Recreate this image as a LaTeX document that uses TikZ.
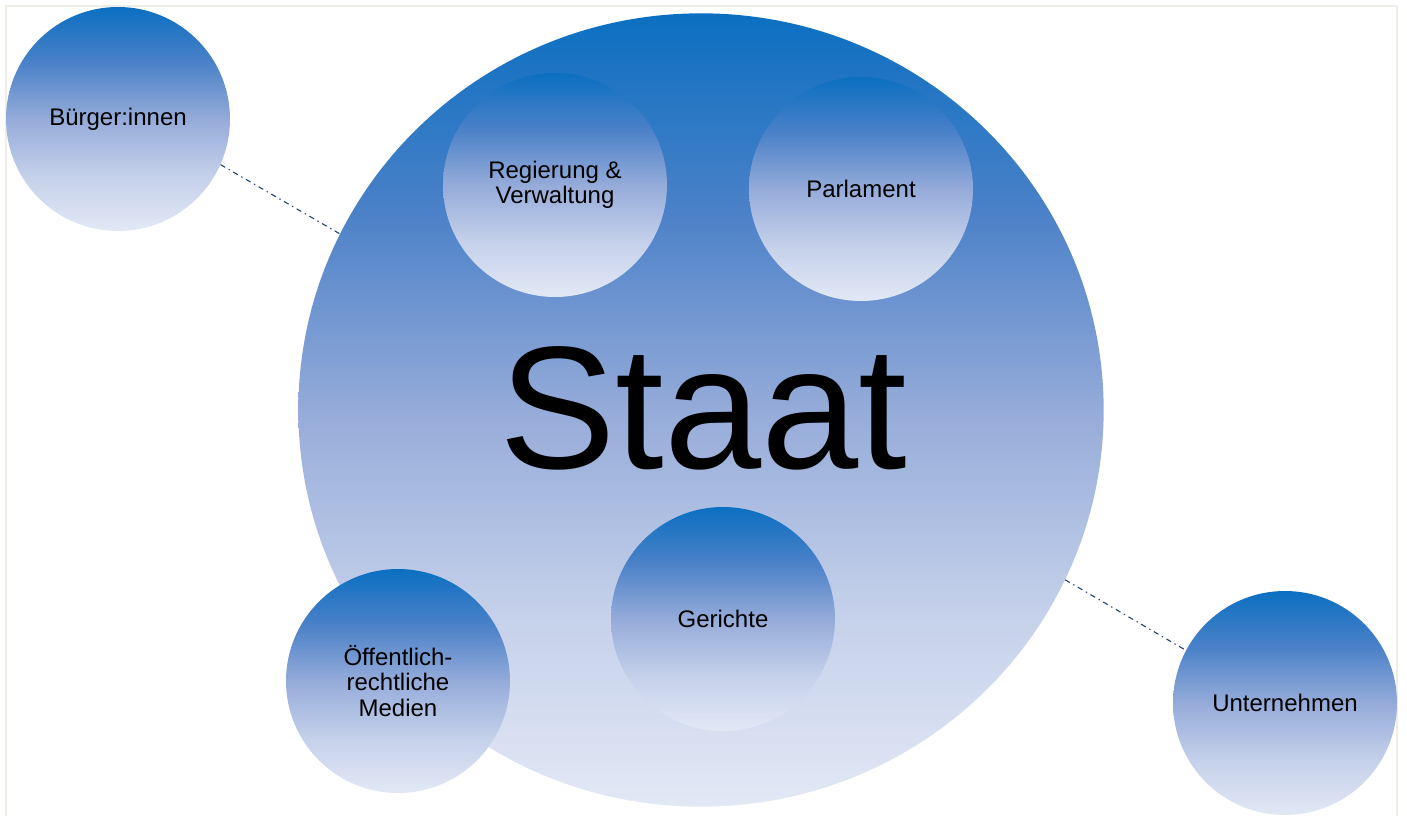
\documentclass[tikz,border=0pt]{standalone}
\usepackage{fontspec}
\setmainfont{Liberation Sans}
\usetikzlibrary{shapes.geometric}
\definecolor{cT}{HTML}{0B6FC1}
\definecolor{cC}{HTML}{4B81C8}
\definecolor{cM}{HTML}{95ABD9}
\definecolor{cD}{HTML}{C4D0EA}
\definecolor{cB}{HTML}{E2E8F5}
\definecolor{frameC}{HTML}{EEEEE6}
\definecolor{lineC}{HTML}{1F3F70}
\pgfdeclareverticalshading{bluegrad}{100bp}{color(0bp)=(cB); color(25bp)=(cB); color(37.5bp)=(cD); color(50bp)=(cM); color(62.5bp)=(cC); color(75bp)=(cT); color(100bp)=(cT)}
\tikzset{
  bubble/.style={circle, shading=bluegrad, minimum size=168pt, inner sep=0pt, align=center, font=\fontsize{18}{19}\selectfont, text=black},
  linkline/.style={draw=lineC, line width=0.8pt, dash pattern=on 4pt off 3pt on 1pt off 3pt}
}
\begin{document}
\begin{tikzpicture}[x=0.75pt, y=-0.75pt]
\useasboundingbox (0,0) rectangle (1407,816);
\fill[white] (0,0) rectangle (1407,816);
\draw[frameC, line width=1.2pt] (6,820) -- (6,6) -- (1397,6) -- (1397,820);
\node[ellipse, shading=bluegrad, minimum width=604pt, minimum height=595pt, inner sep=0pt] (staat) at (701,410) {};
\node[anchor=base, font=\fontsize{131}{131}\selectfont] (staattext) at (703,469) {Staat};
\node[bubble] (buerger) at (118,119) {B\"urger:innen};
\node[bubble] (regierung) at (555,185) {Regierung \&\\Verwaltung};
\node[bubble] (parlament) at (861,189) {Parlament};
\node[bubble] (gerichte) at (723,619) {Gerichte};
\node[bubble] (medien) at (398,681) {\"Offentlich-\\rechtliche\\Medien};
\node[bubble] (unternehmen) at (1285,703) {Unternehmen};
\draw[linkline] (buerger.-24) -- (staat.154.4);
\draw[linkline] (staat.-25.4) -- (unternehmen.152.8);
\end{tikzpicture}
\end{document}
